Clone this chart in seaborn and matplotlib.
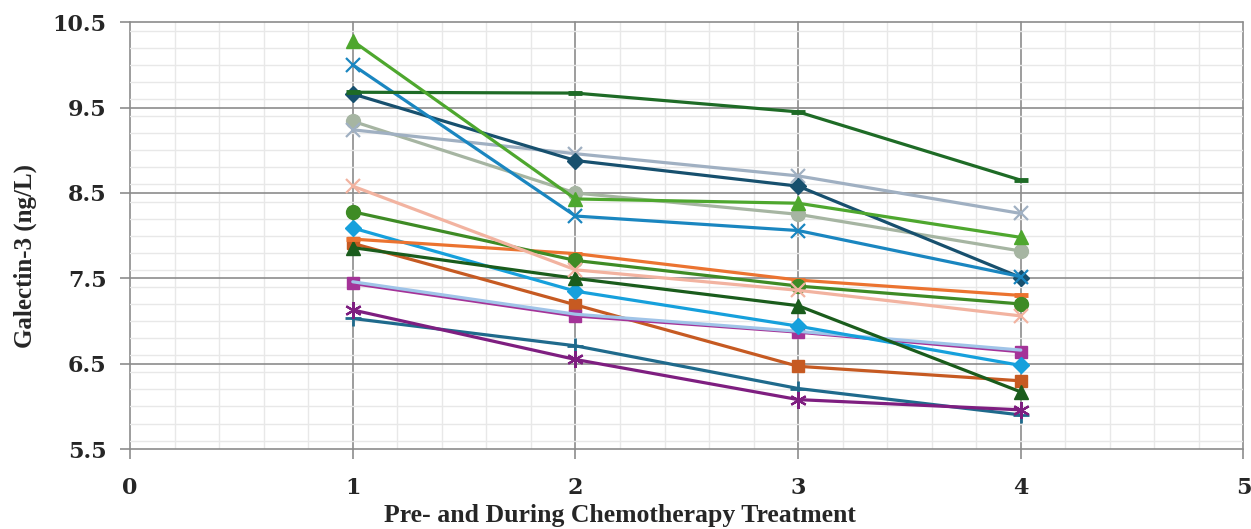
import matplotlib
matplotlib.use("Agg")
import matplotlib.pyplot as plt
from matplotlib.ticker import MultipleLocator, FixedLocator
import seaborn as sns

# ---- data ----
visits = [1, 2, 3, 4]
s_lightgreen_tri = [10.28, 8.43, 8.38, 7.98]
s_blue_x = [10.00, 8.23, 8.06, 7.52]
s_darkgreen_dash = [9.68, 9.67, 9.45, 8.65]
s_navy_diamond = [9.66, 8.88, 8.58, 7.51]
s_grayblue_x = [9.24, 8.96, 8.70, 8.26]
s_sage_circle = [9.34, 8.50, 8.25, 7.82]
s_salmon_x = [8.58, 7.60, 7.36, 7.06]
s_green_circle = [8.28, 7.71, 7.41, 7.20]
s_blue_diamond = [8.09, 7.35, 6.94, 6.48]
s_orange_dash = [7.96, 7.79, 7.48, 7.30]
s_orange_square = [7.91, 7.19, 6.47, 6.30]
s_darkgreen_tri = [7.86, 7.50, 7.18, 6.17]
s_magenta_square = [7.44, 7.06, 6.87, 6.64]
s_lightblue_line = [7.46, 7.08, 6.88, 6.66]
s_teal_plus = [7.03, 6.71, 6.21, 5.90]
s_purple_star = [7.13, 6.55, 6.08, 5.96]

y_ticks = [5.5, 6.5, 7.5, 8.5, 9.5, 10.5]
y_tick_labels = ["5.5", "6.5", "7.5", "8.5", "9.5", "10.5"]
x_ticks = [0, 1, 2, 3, 4, 5]
x_tick_labels = ["0", "1", "2", "3", "4", "5"]

series = [
    (s_teal_plus, "#1F6A8C", "+", 11, 2.0),
    (s_purple_star, "#7E1E80", (6, 2, 0), 12, 1.6),
    (s_orange_square, "#C65A22", "s", 9, 1.0),
    (s_magenta_square, "#A43398", "s", 9, 1.0),
    (s_lightblue_line, "#A0C4E8", "", 0, 1.0),
    (s_blue_diamond, "#16A0DC", "D", 8, 1.0),
    (s_darkgreen_tri, "#1A5C1C", "^", 10, 1.0),
    (s_orange_dash, "#EB7330", "_", 10, 3.5),
    (s_green_circle, "#3E8B25", "o", 10, 1.0),
    (s_salmon_x, "#F2B3A0", "x", 10, 1.6),
    (s_sage_circle, "#A6B5A2", "o", 10, 1.0),
    (s_grayblue_x, "#A0B0C2", "x", 10, 1.6),
    (s_navy_diamond, "#17506E", "D", 8, 1.0),
    (s_blue_x, "#1A86C0", "x", 10, 1.6),
    (s_darkgreen_dash, "#1E6B26", "_", 10, 3.5),
    (s_lightgreen_tri, "#4EA72E", "^", 10, 1.0),
]

sns.set_theme(style="white")
plt.rcParams["font.family"] = ["Liberation Serif", "DejaVu Serif"]

fig = plt.figure(figsize=(12.51, 5.29), dpi=100)
ax = fig.add_axes([0.104, 0.151, 0.890, 0.807])

for vals, col, mk, ms, mew in series:
    sns.lineplot(x=visits, y=vals, ax=ax, color=col, linewidth=2.3,
                 marker=mk if mk else None, markersize=ms,
                 markeredgecolor=col, markerfacecolor=col,
                 markeredgewidth=mew, legend=False)

ax.set_xlim(0, 5)
ax.set_ylim(5.5, 10.5)
ax.xaxis.set_major_locator(FixedLocator(x_ticks))
ax.yaxis.set_major_locator(FixedLocator(y_ticks))
ax.xaxis.set_minor_locator(MultipleLocator(0.2))
ax.yaxis.set_minor_locator(MultipleLocator(0.2))
ax.set_xticklabels(x_tick_labels)
ax.set_yticklabels(y_tick_labels)

ax.grid(which="major", color="#8C8C8C", linewidth=1.2, zorder=0)
ax.grid(which="minor", color="#E8E8E8", linewidth=1.0, zorder=0)
ax.set_axisbelow(True)
for gl in ax.get_xgridlines() + ax.get_ygridlines():
    gl.set_clip_on(False)
for s in ax.spines.values():
    s.set_visible(False)

ax.tick_params(axis="both", which="major", length=7, width=1.2, color="#8C8C8C",
               direction="out", left=True, bottom=True)
ax.tick_params(axis="both", which="minor", length=0)
ax.tick_params(axis="y", pad=10)
ax.tick_params(axis="x", pad=13)
for lab in ax.get_xticklabels() + ax.get_yticklabels():
    lab.set_fontfamily("DejaVu Serif")
    lab.set_fontweight("bold")
    lab.set_fontsize(16)

ax.set_xlabel("Pre- and During Chemotherapy Treatment", fontsize=18.5,
              fontweight="bold")
ax.xaxis.set_label_coords(0.44, -0.128)
ax.set_ylabel("Galectin-3 (ng/L)", fontsize=18, fontweight="bold")
ax.yaxis.set_label_coords(-0.084, 0.452)

fig.savefig("out.png", dpi=100)
